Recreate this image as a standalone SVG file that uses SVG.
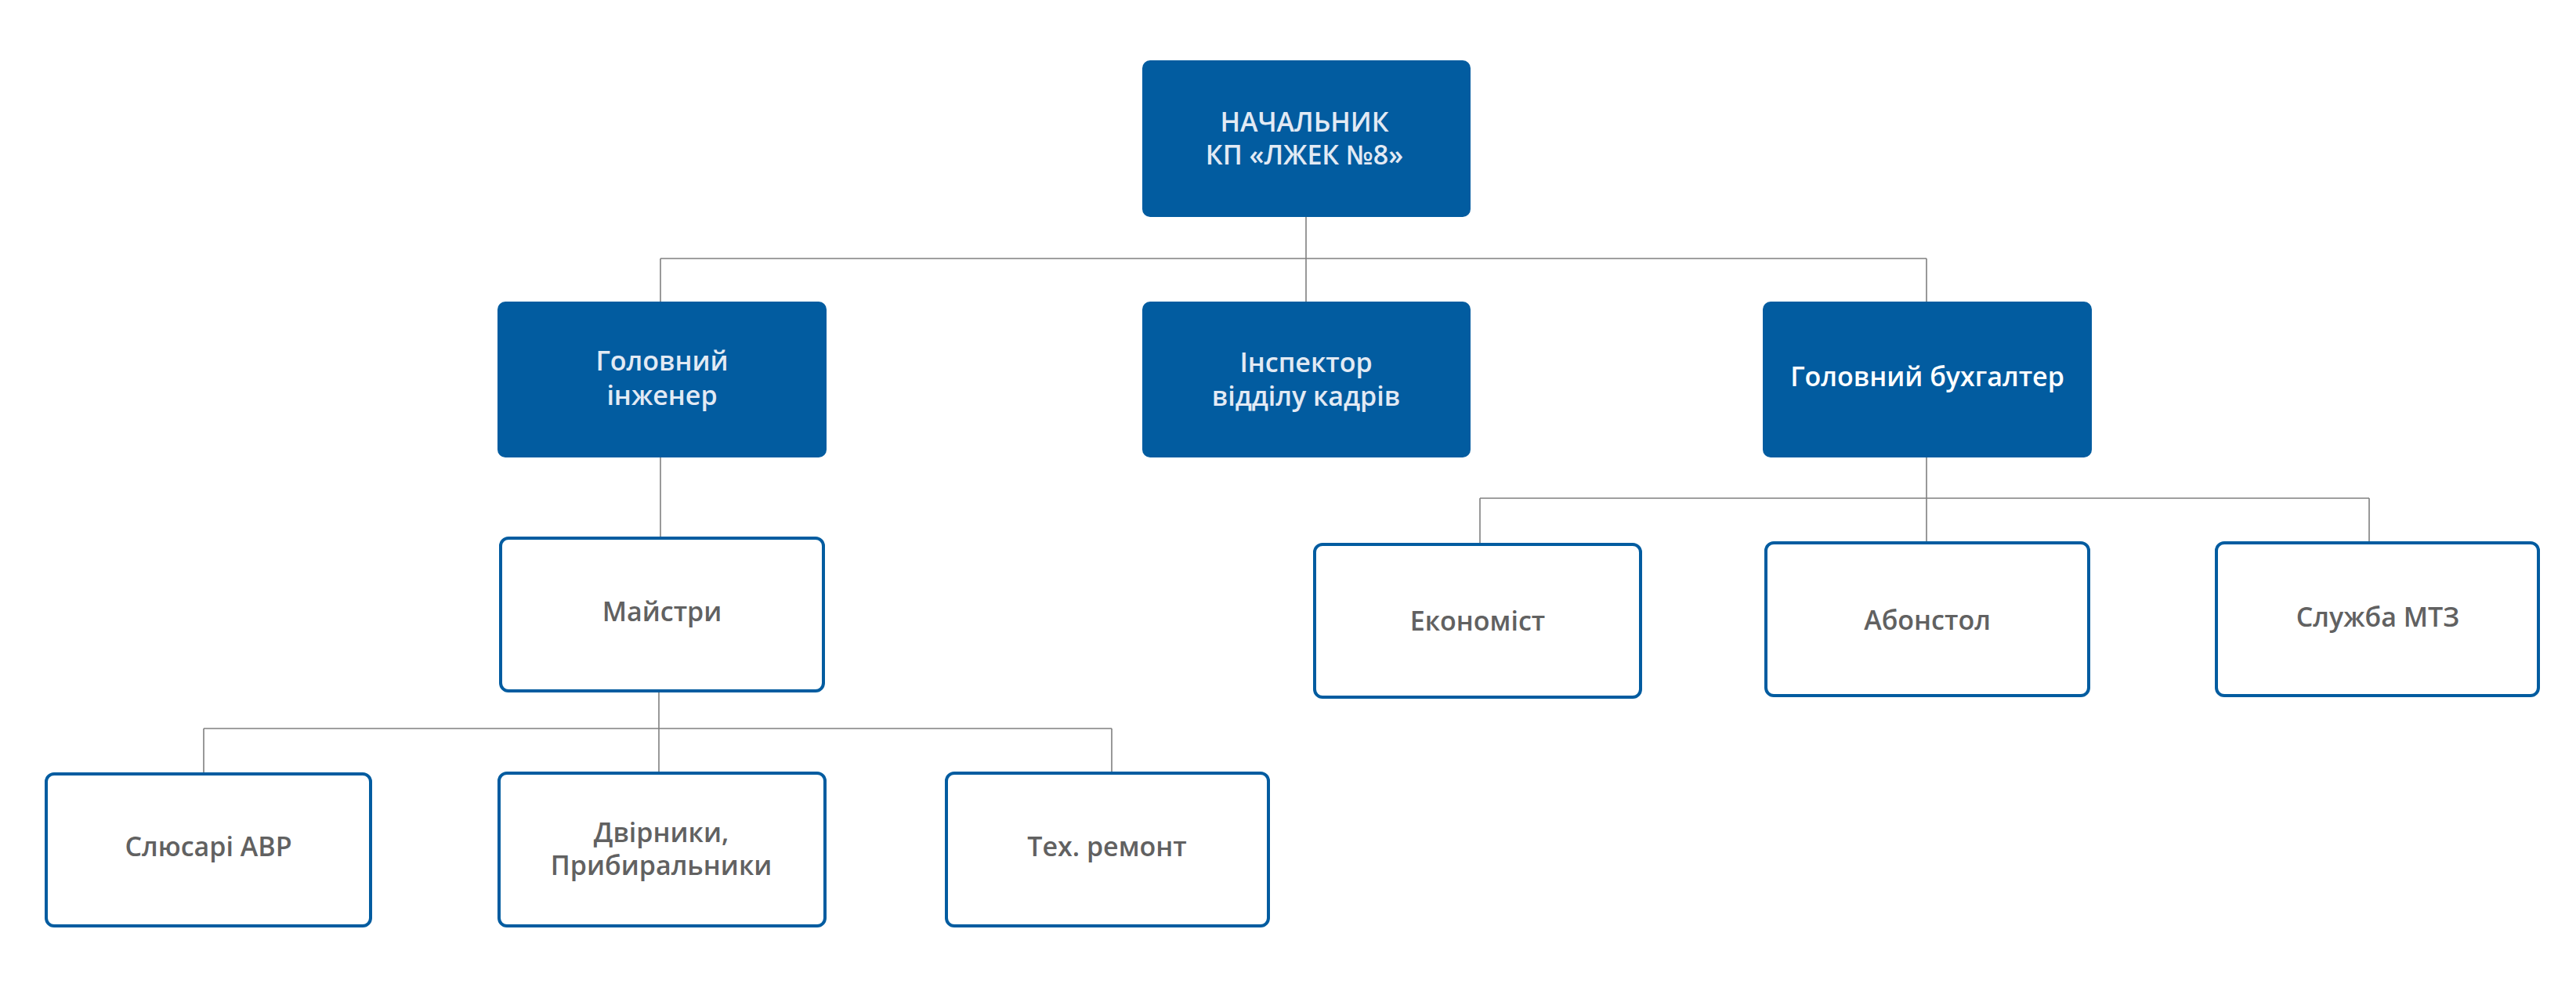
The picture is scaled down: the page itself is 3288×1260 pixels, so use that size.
<svg xmlns="http://www.w3.org/2000/svg" width="3288" height="1260" viewBox="0 0 3288 1260">
<style>
.bn{fill:#025ca0}
.wn{fill:#ffffff;stroke:#025ca0;stroke-width:4}
.t{font-family:"Open Sans","Liberation Sans",sans-serif;font-weight:600;font-size:34px;text-anchor:middle}
.tl{fill:#e2eaf4}
.tw{fill:#ffffff}
.tg{fill:#616161}
.c{stroke:#808080;stroke-width:1.6;fill:none}
</style>
<rect width="3288" height="1260" fill="#ffffff"/>
<g id="connectors">
<path class="c" d="M1667 277V330M843 330H2459M843 330V385M1667 330V385M2459 330V385"/>
<path class="c" d="M843 584V685"/>
<path class="c" d="M841 883V930M260 930H1419M260 930V986M841 930V986M1419 930V986"/>
<path class="c" d="M2459 584V636M1889 636H3024M1889 636V693M2459 636V691M3024 636V691"/>
</g>
<g id="n-head">
<rect class="bn" x="1458" y="77" width="419" height="200" rx="10"/>
<text class="t tl" x="1665" y="168">НАЧАЛЬНИК</text>
<text class="t tl" x="1665" y="210">КП «ЛЖЕК №8»</text>
</g>
<g id="n-engineer">
<rect class="bn" x="635" y="385" width="420" height="199" rx="10"/>
<text class="t tl" x="845" y="473">Головний</text>
<text class="t tl" x="845" y="517">інженер</text>
</g>
<g id="n-inspector">
<rect class="bn" x="1458" y="385" width="419" height="199" rx="10"/>
<text class="t tl" x="1667" y="475">Інспектор</text>
<text class="t tl" x="1667" y="518">відділу кадрів</text>
</g>
<g id="n-accountant">
<rect class="bn" x="2250" y="385" width="420" height="199" rx="10"/>
<text class="t tw" x="2460" y="493">Головний бухгалтер</text>
</g>
<g id="n-masters">
<rect class="wn" x="639" y="687" width="412" height="195" rx="10"/>
<text class="t tg" x="845" y="793">Майстри</text>
</g>
<g id="n-economist">
<rect class="wn" x="1678" y="695" width="416" height="195" rx="10"/>
<text class="t tg" x="1886" y="805">Економіст</text>
</g>
<g id="n-abonstol">
<rect class="wn" x="2254" y="693" width="412" height="195" rx="10"/>
<text class="t tg" x="2460" y="804">Абонстол</text>
</g>
<g id="n-mtz">
<rect class="wn" x="2829" y="693" width="411" height="195" rx="10"/>
<text class="t tg" x="3035" y="800">Служба МТЗ</text>
</g>
<g id="n-locksmiths">
<rect class="wn" x="59" y="988" width="414" height="194" rx="10"/>
<text class="t tg" x="266" y="1093">Слюсарі АВР</text>
</g>
<g id="n-janitors">
<rect class="wn" x="637" y="987" width="416" height="195" rx="10"/>
<text class="t tg" x="844" y="1075">Двірники,</text>
<text class="t tg" x="844" y="1117">Прибиральники</text>
</g>
<g id="n-repair">
<rect class="wn" x="1208" y="987" width="411" height="195" rx="10"/>
<text class="t tg" x="1413" y="1093">Тех. ремонт</text>
</g>
</svg>
